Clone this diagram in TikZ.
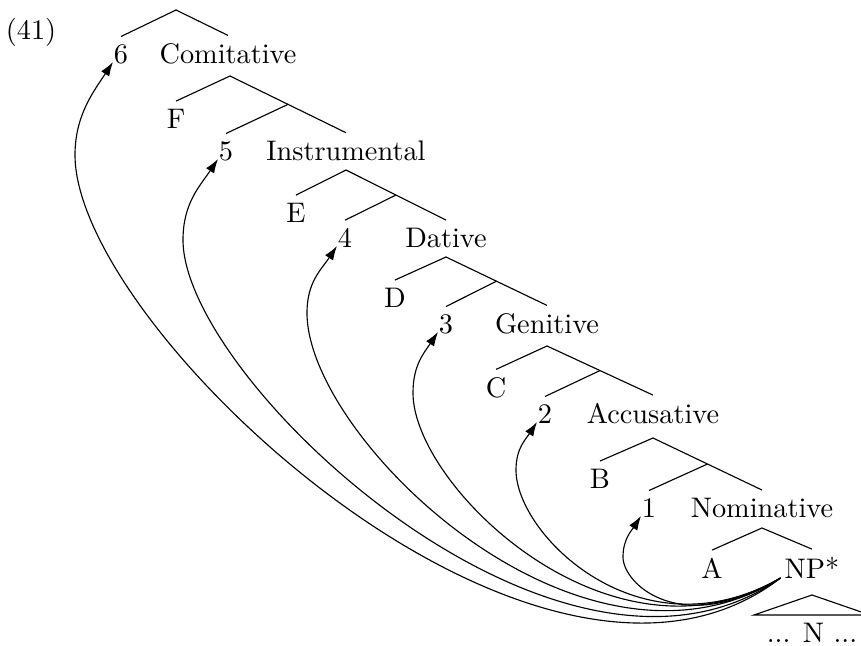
\documentclass[tikz,border=0pt]{standalone}
\usetikzlibrary{calc,arrows.meta}
\begin{document}
\begin{tikzpicture}[x=0.3534pt,y=-0.3534pt,
  lbl/.style={inner sep=2.5pt,anchor=base},
  mv/.style={-{Latex[length=5pt,width=3.4pt]}}]
\useasboundingbox (0,0) rectangle (861,646);
% ---- text nodes
\node[lbl] (ex)  at (31,39)   {(41)};
\node[lbl] (n6)  at (121,63)  {6};
\node[lbl] (com) at (228,63)  {Comitative};
\node[lbl] (F)   at (176,128) {F};
\node[lbl] (n5)  at (226,160) {5};
\node[lbl] (ins) at (346,160) {Instrumental};
\node[lbl] (E)   at (296,222) {E};
\node[lbl] (n4)  at (345,247) {4};
\node[lbl] (dat) at (446,247) {Dative};
\node[lbl] (D)   at (395,307) {D};
\node[lbl] (n3)  at (446,333) {3};
\node[lbl] (gen) at (547,333) {Genitive};
\node[lbl] (C)   at (496,397) {C};
\node[lbl] (n2)  at (545,423) {2};
\node[lbl] (acc) at (653,423) {Accusative};
\node[lbl] (B)   at (600,488) {B};
\node[lbl] (n1)  at (649,517) {1};
\node[lbl] (nom) at (762,517) {Nominative};
\node[lbl] (A)   at (712,578) {A};
\node[lbl] (NP)  at (812,578) {NP*};
\node[lbl] (N)   at (812,642) {... N ...};
% ---- tree branches
\coordinate (a0) at (176,10);
\draw (a0) -- (n6.north);
\draw (a0) -- (com.north);
\coordinate (a6) at (230,76);
\coordinate (i6) at ($(a6)!0.5!(ins.north)$);
\draw (a6) -- (F.north);
\draw (a6) -- (ins.north);
\draw (i6) -- (n5.north);
\coordinate (a5) at (346,170);
\coordinate (i5) at ($(a5)!0.5!(dat.north)$);
\draw (a5) -- (E.north);
\draw (a5) -- (dat.north);
\draw (i5) -- (n4.north);
\coordinate (a4) at (446,257);
\coordinate (i4) at ($(a4)!0.5!(gen.north)$);
\draw (a4) -- (D.north);
\draw (a4) -- (gen.north);
\draw (i4) -- (n3.north);
\coordinate (a3) at (547,346);
\coordinate (i3) at ($(a3)!0.5!(acc.north)$);
\draw (a3) -- (C.north);
\draw (a3) -- (acc.north);
\draw (i3) -- (n2.north);
\coordinate (a2) at (653,438);
\coordinate (i2) at ($(a2)!0.5!(nom.north)$);
\draw (a2) -- (B.north);
\draw (a2) -- (nom.north);
\draw (i2) -- (n1.north);
\coordinate (a1) at (762,528);
\draw (a1) -- (A.north);
\draw (a1) -- (NP.north);
% ---- triangle
\coordinate (tA) at (812,595);
\coordinate (tL) at (754,615);
\coordinate (tR) at (870,615);
\draw (tA) -- (tL) -- (tR) -- cycle;
% ---- movement arrows
\coordinate (S) at ($(NP.base west)+(3.5,0)$);
\coordinate (T6) at ($(n6.base)+(-8,-1)$);
\coordinate (T5) at ($(n5.base)+(-8,-1)$);
\coordinate (T4) at ($(n4.base)+(-8,-1)$);
\coordinate (T3) at ($(n3.base)+(-8,-1)$);
\coordinate (T2) at ($(n2.base)+(-8,-1)$);
\coordinate (T1) at ($(n1.base)+(-8,-1)$);
\coordinate (L6) at (75,155);
\coordinate (L5) at (183,240);
\coordinate (L4) at (307,313);
\coordinate (L3) at (413,393);
\coordinate (L2) at (516,470);
\coordinate (L1) at (623,557);
\draw[mv] (S) .. controls ($(S)+(-240,185)$) and ($(L6)+(0,175)$) .. (L6)
              .. controls ($(L6)+(0,-40)$) and ($(T6)+(-19,29)$) .. (T6);
\draw[mv] (S) .. controls ($(S)+(-220,155)$) and ($(L5)+(0,140)$) .. (L5)
              .. controls ($(L5)+(0,-37)$) and ($(T5)+(-18,27)$) .. (T5);
\draw[mv] (S) .. controls ($(S)+(-200,125)$) and ($(L4)+(0,125)$) .. (L4)
              .. controls ($(L4)+(0,-31)$) and ($(T4)+(-16,24)$) .. (T4);
\draw[mv] (S) .. controls ($(S)+(-170,100)$) and ($(L3)+(0,93)$) .. (L3)
              .. controls ($(L3)+(0,-28)$) and ($(T3)+(-14,21)$) .. (T3);
\draw[mv] (S) .. controls ($(S)+(-140,80)$) and ($(L2)+(0,65)$) .. (L2)
              .. controls ($(L2)+(0,-22)$) and ($(T2)+(-11,17)$) .. (T2);
\draw[mv] (S) .. controls ($(S)+(-100,60)$) and ($(L1)+(0,27)$) .. (L1)
              .. controls ($(L1)+(0,-18)$) and ($(T1)+(-9,14)$) .. (T1);
\end{tikzpicture}
\end{document}
